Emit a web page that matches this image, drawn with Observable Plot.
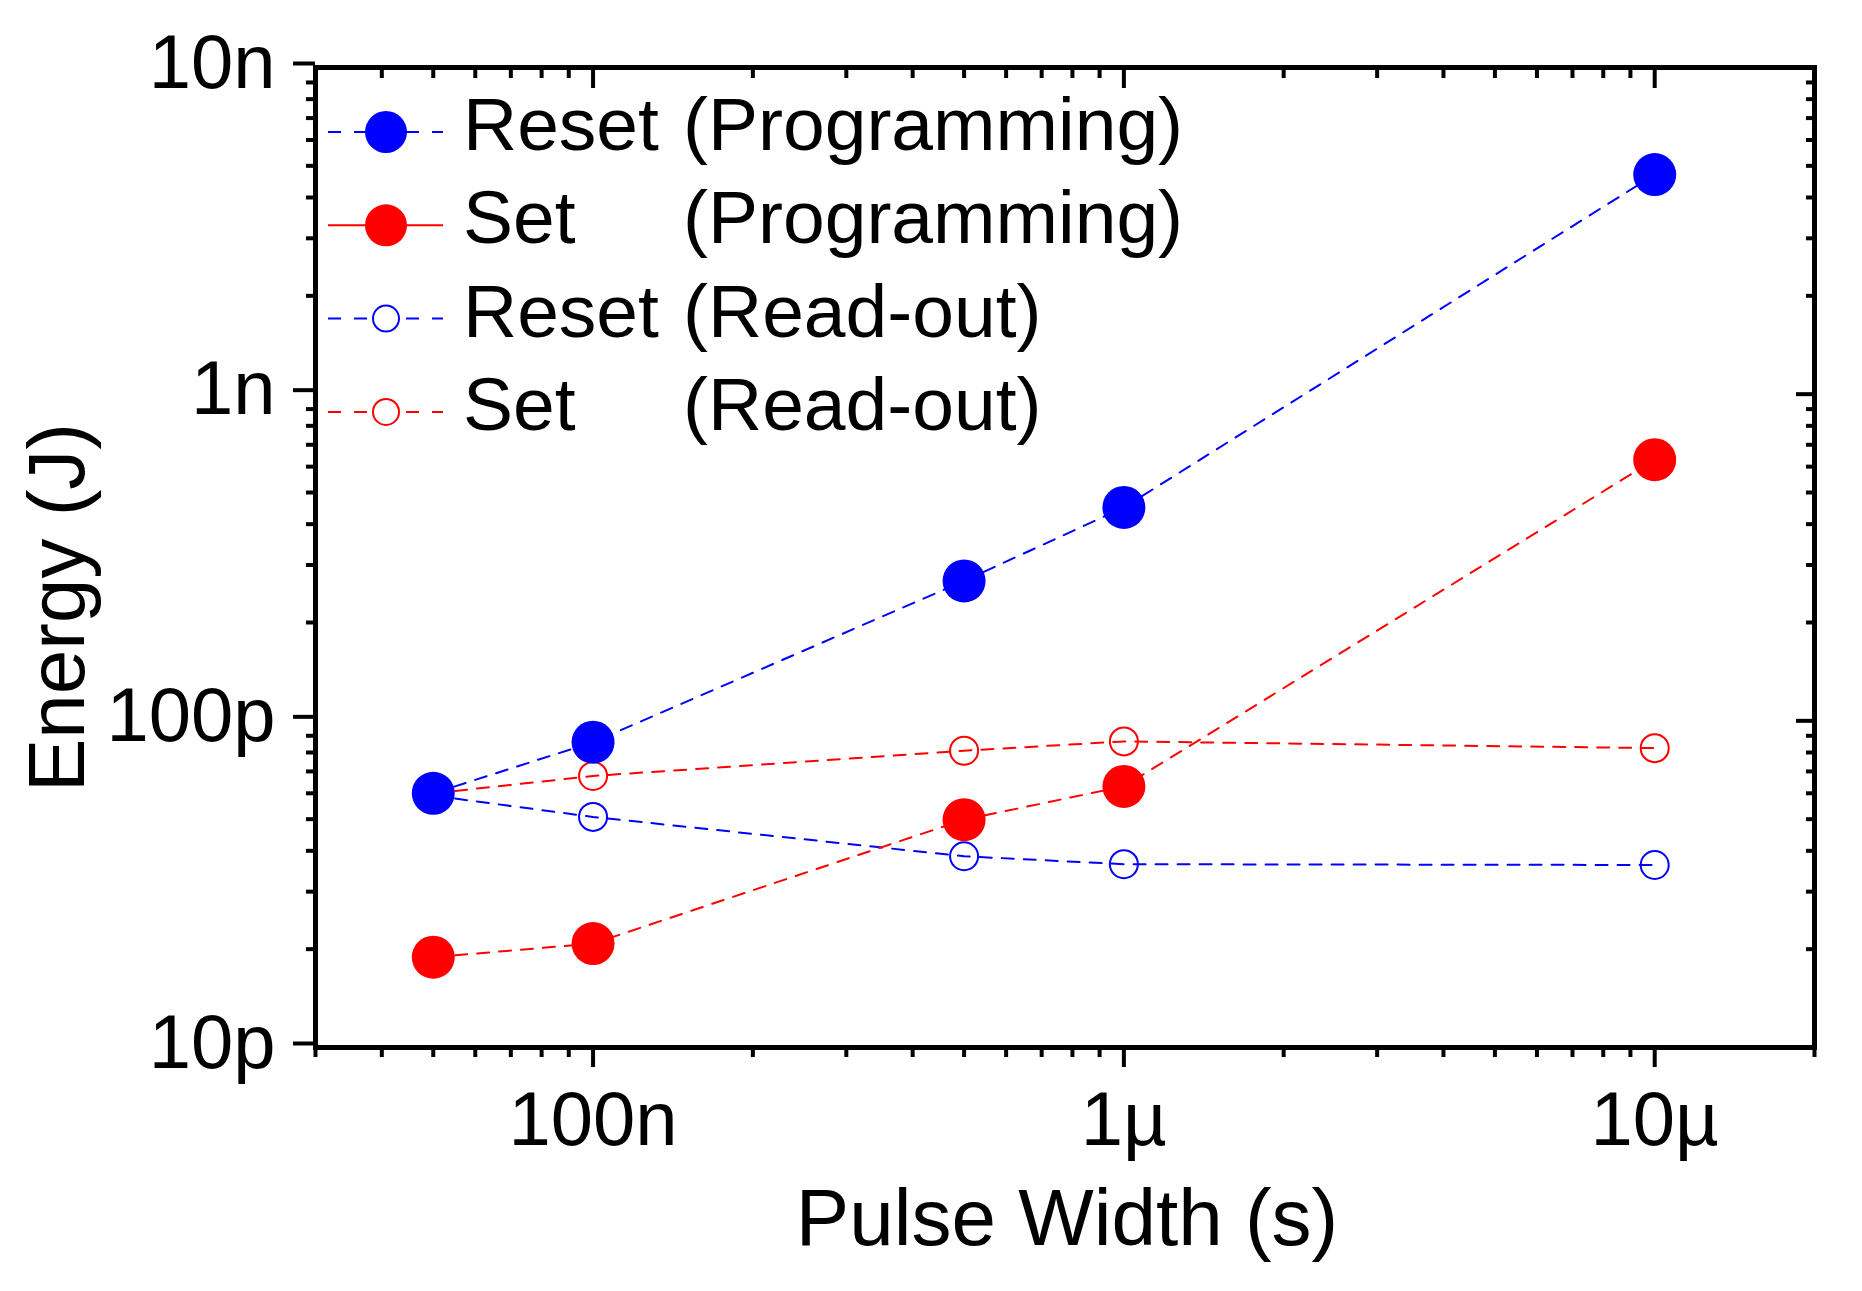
<!DOCTYPE html>
<html>
<head>
<meta charset="utf-8">
<script src="https://cdn.jsdelivr.net/npm/d3@7"></script>
<script src="https://cdn.jsdelivr.net/npm/@observablehq/plot@0.6"></script>
<style>
  html, body { margin: 0; padding: 0; background: #fff; }
  #wrap { position: relative; width: 1862px; height: 1291px; }
  #legend { position: absolute; left: 0; top: 0; pointer-events: none; }
</style>
</head>
<body>
<div id="wrap"></div>
<script>
// ---- data ----
const pulseWidths = [5e-8, 1e-7, 5e-7, 1e-6, 1e-5];
const resetProgramming = [60e-12, 86e-12, 268e-12, 450e-12, 4.7e-9];
const setProgramming = [18.9e-12, 20.8e-12, 49.8e-12, 63e-12, 630e-12];
const resetReadout = [59e-12, 50.8e-12, 38.5e-12, 36.4e-12, 36.2e-12];
const setReadout = [60e-12, 67.8e-12, 81e-12, 86.5e-12, 82.5e-12];

const xMajorTicks = [1e-7, 1e-6, 1e-5];
const xMajorLabels = ["100n", "1µ", "10µ"];
const yMajorTicks = [1e-11, 1e-10, 1e-9, 1e-8];
const yMajorLabels = ["10p", "100p", "1n", "10n"];
const xMinorTicks = [3e-8, 4e-8, 5e-8, 6e-8, 7e-8, 8e-8, 9e-8,
  2e-7, 3e-7, 4e-7, 5e-7, 6e-7, 7e-7, 8e-7, 9e-7,
  2e-6, 3e-6, 4e-6, 5e-6, 6e-6, 7e-6, 8e-6, 9e-6, 2e-5];
const yMinorTicks = [2e-11, 3e-11, 4e-11, 5e-11, 6e-11, 7e-11, 8e-11, 9e-11,
  2e-10, 3e-10, 4e-10, 5e-10, 6e-10, 7e-10, 8e-10, 9e-10,
  2e-9, 3e-9, 4e-9, 5e-9, 6e-9, 7e-9, 8e-9, 9e-9];

const seriesNames = ["Reset", "Set", "Reset", "Set"];
const seriesKinds = ["(Programming)", "(Programming)", "(Read-out)", "(Read-out)"];
const seriesColors = ["#0000ff", "#ff0000", "#0000ff", "#ff0000"];
const seriesFilled = [true, true, false, false];
const seriesLegendSolid = [false, true, false, false];
const xTitle = "Pulse Width (s)";
const yTitle = "Energy (J)";

// ---- build tables ----
const seriesValues = [resetProgramming, setProgramming, resetReadout, setReadout];
const rows = [];
seriesValues.forEach((vals, s) => vals.forEach((v, i) => rows.push({s, x: pulseWidths[i], y: v})));

const font = "'Liberation Sans', Arial, sans-serif";
const W = 1862, H = 1291;
const mL = 315, mR = 48, mT = 67, mB = 244;

const xLab = new Map(xMajorTicks.map((t, i) => [t, xMajorLabels[i]]));
const yLab = new Map(yMajorTicks.map((t, i) => [t, yMajorLabels[i]]));

const lineMarks = [3, 2, 1, 0].map(s => Plot.line(rows.filter(d => d.s === s), {
  x: "x", y: "y", stroke: seriesColors[s], strokeWidth: 2, strokeDasharray: "12,10"
}));
const openDots = [3, 2].map(s => Plot.dot(rows.filter(d => d.s === s), {
  x: "x", y: "y", r: 14, stroke: seriesColors[s], strokeWidth: 2, fill: "white", fillOpacity: 0
}));
const filledDots = [1, 0].map(s => Plot.dot(rows.filter(d => d.s === s), {
  x: "x", y: "y", r: 21.5, fill: seriesColors[s], stroke: null
}));

const chart = Plot.plot({
  width: W, height: H,
  marginLeft: mL, marginRight: mR, marginTop: mT, marginBottom: mB,
  style: {fontFamily: font, fontSize: "76px", color: "black", background: "white", overflow: "visible"},
  x: {type: "log", domain: [3e-8, 2e-5]},
  y: {type: "log", domain: [1e-11, 1e-8]},
  marks: [
    ...lineMarks,
    ...openDots,
    ...filledDots,
    // bottom axis
    Plot.axisX(xMinorTicks, {anchor: "bottom", tickSize: 10, strokeWidth: 4, tickFormat: () => "", label: null}),
    Plot.axisX(xMajorTicks, {anchor: "bottom", tickSize: 20, strokeWidth: 4, tickPadding: 24,
      tickFormat: d => xLab.get(d), label: null, fontSize: 76, fontFamily: font}),
    // top axis (ticks pointing down)
    Plot.axisX(xMinorTicks, {anchor: "top", tickSize: -10, strokeWidth: 4, tickFormat: () => "", label: null}),
    Plot.axisX(xMajorTicks, {anchor: "top", tickSize: -20, strokeWidth: 4, tickFormat: () => "", label: null}),
    // left axis
    Plot.axisY(yMinorTicks, {anchor: "left", tickSize: 9, strokeWidth: 4, tickFormat: () => "", label: null}),
    Plot.axisY(yMajorTicks, {anchor: "left", tickSize: 22, strokeWidth: 4, tickPadding: 18,
      tickFormat: d => yLab.get(d), label: null, fontSize: 76, fontFamily: font, dy: -4}),
    // right axis (ticks pointing left)
    Plot.axisY(yMinorTicks, {anchor: "right", tickSize: -9, strokeWidth: 4, tickFormat: () => "", label: null}),
    Plot.axisY(yMajorTicks, {anchor: "right", tickSize: -19, strokeWidth: 4, tickFormat: () => "", label: null}),
    Plot.frame({stroke: "black", strokeWidth: 5}),
    // axis titles
    Plot.text([xTitle], {text: d => d, frameAnchor: "bottom", dy: 197, dx: 2,
      fontSize: 80, fontFamily: font, fill: "black", lineAnchor: "bottom"}),
    Plot.text([yTitle], {text: d => d, frameAnchor: "left", rotate: -90, dx: -232, dy: 50,
      textAnchor: "middle", fontSize: 80, fontFamily: font, fill: "black", lineAnchor: "bottom"})
  ]
});

const wrap = document.getElementById("wrap");
wrap.appendChild(chart);

// ---- legend overlay ----
const leg = d3.select(wrap).append("svg").attr("id", "legend")
  .attr("width", W).attr("height", H);
const rowY0 = 132, rowDY = 93.3;
const lineX1 = 328, lineX2 = 443, markX = 386, nameX = 463, kindX = 683;
seriesNames.forEach((name, i) => {
  const cy = rowY0 + i * rowDY;
  const g = leg.append("g");
  g.append("line").attr("x1", lineX1).attr("x2", lineX2).attr("y1", cy).attr("y2", cy)
    .attr("stroke", seriesColors[i]).attr("stroke-width", 2)
    .attr("stroke-dasharray", seriesLegendSolid[i] ? null : "13,13");
  if (seriesFilled[i]) {
    g.append("circle").attr("cx", markX).attr("cy", cy).attr("r", 21).attr("fill", seriesColors[i]);
  } else {
    g.append("circle").attr("cx", markX).attr("cy", cy).attr("r", 13).attr("fill", "white")
      .attr("stroke", seriesColors[i]).attr("stroke-width", 2);
  }
  g.append("text").attr("x", nameX).attr("y", cy + 18).text(name)
    .attr("font-family", font).attr("font-size", 75).attr("fill", "black");
  g.append("text").attr("x", kindX).attr("y", cy + 18).text(seriesKinds[i])
    .attr("font-family", font).attr("font-size", 75).attr("fill", "black");
});
</script>
</body>
</html>
